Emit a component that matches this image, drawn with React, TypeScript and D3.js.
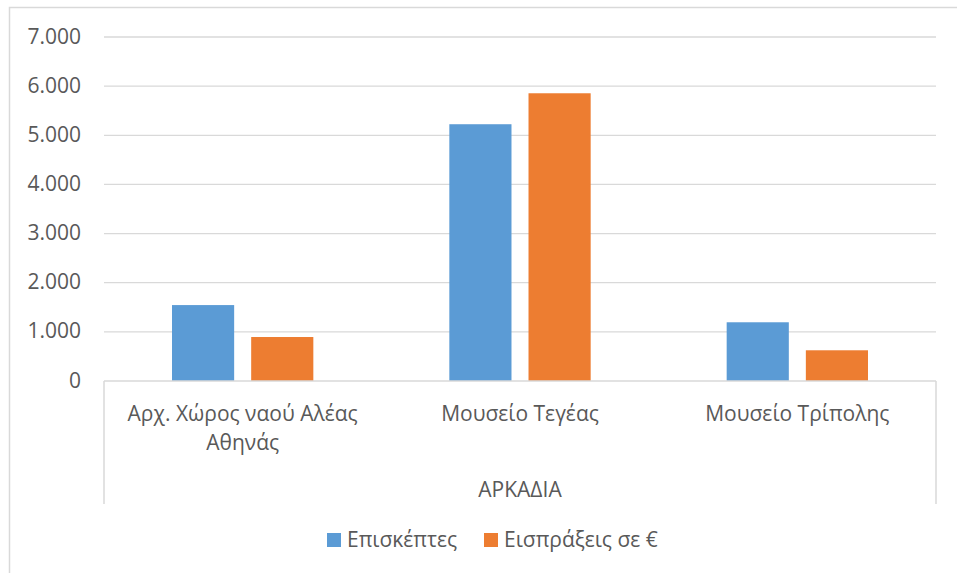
import React from "react";
import * as d3 from "d3";

const categories = ["Αρχ. Χώρος ναού Αλέας Αθηνάς", "Μουσείο Τεγέας", "Μουσείο Τρίπολης"];
const groupLabel = "ΑΡΚΑΔΙΑ";
const seriesNames = ["Επισκέπτες", "Εισπράξεις σε €"];
const visitors = [1545, 5225, 1195];
const revenue = [895, 5855, 625];
const yTicks = [0, 1000, 2000, 3000, 4000, 5000, 6000, 7000];
const colors = ["#5B9BD5", "#ED7D31"];

const W = 957;
const H = 573;
const plotLeft = 104;
const plotRight = 936;
const plotTop = 37;
const plotBottom = 381;
const FONT = "'Open Sans', sans-serif";
const TEXT = "#595959";
const GRID = "#D9D9D9";

function wrap(label: string, maxChars: number): string[] {
  const words = label.split(" ");
  const lines: string[] = [];
  let cur = "";
  for (const w of words) {
    const next = cur ? cur + " " + w : w;
    if (next.length > maxChars && cur) {
      lines.push(cur);
      cur = w;
    } else cur = next;
  }
  if (cur) lines.push(cur);
  return lines;
}

const fmt = (v: number) => d3.format(",")(v).replace(/,/g, ".");

export default function App() {
  const y = d3.scaleLinear().domain([0, 7000]).range([plotBottom, plotTop]);
  const x0 = d3.scaleBand<string>().domain(categories).range([plotLeft, plotRight]).padding(0);
  const step = x0.bandwidth();
  const groupPad = 68;
  const x1 = d3
    .scaleBand<string>()
    .domain(seriesNames)
    .range([groupPad, step - groupPad])
    .paddingInner(0.215)
    .paddingOuter(0);
  const seriesValues = [visitors, revenue];

  const legendX = [327, 484];

  return (
    <svg
      width={W}
      height={H}
      style={{ position: "absolute", left: 0, top: 0, background: "#fff" }}
      fontFamily={FONT}
    >
      <rect x={0} y={0} width={W} height={H} fill="#fff" />
      <rect x={9.5} y={7.5} width={1000} height={700} fill="none" stroke={GRID} strokeWidth={1.5} />
      {yTicks.map((t) => (
        <g key={t}>
          {t > 0 && (
            <line x1={plotLeft} x2={plotRight} y1={y(t)} y2={y(t)} stroke={GRID} strokeWidth={1.3} />
          )}
          <text x={81} y={y(t) + 6.5} textAnchor="end" fontSize={21} fill={TEXT}>
            {fmt(t)}
          </text>
        </g>
      ))}
      {categories.map((c, i) =>
        seriesNames.map((s, j) => {
          const v = seriesValues[j][i];
          return (
            <rect
              key={c + s}
              x={(x0(c) as number) + (x1(s) as number)}
              y={y(v)}
              width={x1.bandwidth()}
              height={y(0) - y(v)}
              fill={colors[j]}
            />
          );
        })
      )}
      <line x1={plotLeft} x2={plotRight} y1={plotBottom} y2={plotBottom} stroke={GRID} strokeWidth={1.5} />
      <line x1={plotLeft} x2={plotLeft} y1={plotBottom} y2={504} stroke={GRID} strokeWidth={1.5} />
      <line x1={plotRight} x2={plotRight} y1={plotBottom} y2={504} stroke={GRID} strokeWidth={1.5} />
      {categories.map((c) => {
        const cx = (x0(c) as number) + step / 2;
        return wrap(c, 22).map((ln, k) => (
          <text key={c + k} x={cx} y={421 + k * 29} textAnchor="middle" fontSize={21} fill={TEXT}>
            {ln}
          </text>
        ));
      })}
      <text x={(plotLeft + plotRight) / 2} y={497} textAnchor="middle" fontSize={21} fill={TEXT}>
        {groupLabel}
      </text>
      {seriesNames.map((s, j) => (
        <g key={s}>
          <rect x={legendX[j]} y={533} width={14} height={14} fill={colors[j]} />
          <text x={legendX[j] + 20} y={547} fontSize={21} fill={TEXT}>
            {s}
          </text>
        </g>
      ))}
    </svg>
  );
}
